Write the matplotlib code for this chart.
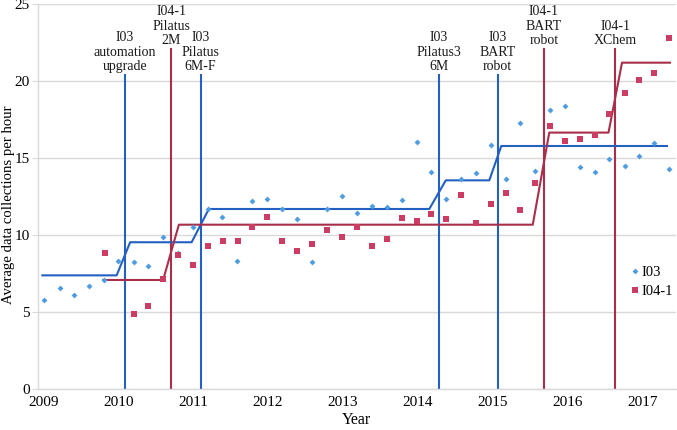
import matplotlib
matplotlib.use("Agg")
import matplotlib.pyplot as plt

plt.rcParams['font.family'] = ['Liberation Serif', 'DejaVu Serif']

# I03 data (run-averaged data collections per hour)
i03_years = [2009.01, 2009.22, 2009.41, 2009.61, 2009.81, 2010.00, 2010.21, 2010.40, 2010.60, 2010.80,
             2011.00, 2011.20, 2011.39, 2011.59, 2011.79, 2011.99, 2012.19, 2012.39, 2012.59, 2012.79,
             2012.99, 2013.18, 2013.38, 2013.58, 2013.78, 2013.98, 2014.17, 2014.37, 2014.57, 2014.77,
             2014.97, 2015.17, 2015.36, 2015.56, 2015.76, 2015.96, 2016.16, 2016.36, 2016.55, 2016.76,
             2016.95, 2017.15, 2017.35]
i03_values = [5.76, 6.58, 6.12, 6.67, 7.08, 8.33, 8.25, 8.01, 9.87, 8.81,
              10.54, 11.70, 11.15, 8.33, 12.21, 12.34, 11.71, 11.06, 8.23, 11.69,
              12.55, 11.45, 11.86, 11.84, 12.29, 16.02, 14.11, 12.32, 13.64, 14.05,
              15.84, 13.62, 17.27, 14.18, 18.12, 18.40, 14.40, 14.07, 14.95, 14.48,
              15.13, 15.99, 14.26]

# I04-1 data
i04_years = [2009.82, 2010.21, 2010.40, 2010.60, 2010.80, 2011.00, 2011.20, 2011.40, 2011.60, 2011.79,
             2011.99, 2012.19, 2012.39, 2012.59, 2012.78, 2012.99, 2013.18, 2013.38, 2013.58, 2013.78,
             2013.98, 2014.17, 2014.37, 2014.57, 2014.77, 2014.97, 2015.17, 2015.36, 2015.56, 2015.76,
             2015.96, 2016.16, 2016.36, 2016.55, 2016.76, 2016.95, 2017.15, 2017.35]
i04_values = [8.83, 4.87, 5.37, 7.12, 8.68, 8.07, 9.31, 9.63, 9.63, 10.52,
              11.15, 9.59, 8.94, 9.39, 10.35, 9.89, 10.52, 9.29, 9.74, 11.10,
              10.93, 11.34, 11.04, 12.62, 10.78, 12.01, 12.71, 11.60, 13.40, 17.08,
              16.10, 16.26, 16.47, 17.86, 19.22, 20.05, 20.54, 22.79]

# Step trend lines (period averages)
i03_step_x = [2008.99, 2009.98, 2010.16, 2010.98, 2011.21, 2014.15, 2014.37, 2014.95, 2015.11, 2017.32]
i03_step_y = [7.38, 7.38, 9.53, 9.53, 11.69, 11.69, 13.55, 13.55, 15.78, 15.78]
i04_step_x = [2009.80, 2010.60, 2010.81, 2015.53, 2015.75, 2016.54, 2016.72, 2017.36]
i04_step_y = [7.08, 7.08, 10.67, 10.67, 16.65, 16.65, 21.19, 21.19]

# Events
event_years = [2010.09, 2010.71, 2011.10, 2014.28, 2015.06, 2015.68, 2016.63]
event_beamline = ['I03', 'I04-1', 'I03', 'I03', 'I03', 'I04-1', 'I04-1']
event_labels = ['I03\nautomation\nupgrade', 'I04-1\nPilatus\n2M', 'I03\nPilatus\n6M-F',
                'I03\nPilatus3\n6M', 'I03\nBART\nrobot', 'I04-1\nBART\nrobot', 'I04-1\nXChem']
event_tops = {'I03': 20.4, 'I04-1': 22.1}

year_ticks = [2009, 2010, 2011, 2012, 2013, 2014, 2015, 2016, 2017]
value_ticks = [0, 5, 10, 15, 20, 25]

pt_blue = '#4f9de0'
pt_red = '#cc3c63'
ln_blue = '#2460c0'
ln_red = '#a82e4a'
grid_c = '#d9d9d9'

fig = plt.figure(figsize=(6.77, 4.30), dpi=100)
ax = fig.add_axes([0.0561, 0.0953, 0.9424, 0.8954])

ax.set_xlim(2008.931, 2017.44)
ax.set_ylim(0, 25)

ax.yaxis.grid(True, color=grid_c, linewidth=1.0)
ax.set_axisbelow(True)

for yr, bl, lab in zip(event_years, event_beamline, event_labels):
    c = ln_blue if bl == 'I03' else ln_red
    top = event_tops[bl]
    ax.plot([yr, yr], [0, top], color=c, linewidth=1.5, zorder=2)
    ax.text(yr, top + 0.12, lab, ha='center', va='bottom', fontsize=10,
            linespacing=1.13, color='#1a1a1a')

ax.plot(i03_step_x, i03_step_y, color=ln_blue, linewidth=1.5, zorder=3)
ax.plot(i04_step_x, i04_step_y, color=ln_red, linewidth=1.5, zorder=3)

ax.plot(i03_years, i03_values, linestyle='none', marker='D', markersize=3,
        color=pt_blue, markeredgewidth=0, label='I03', zorder=4)
ax.plot(i04_years, i04_values, linestyle='none', marker='s', markersize=4.2,
        color=pt_red, markeredgewidth=0, label='I04-1', zorder=4)

ax.set_xticks(year_ticks)
ax.set_xticklabels([str(y) for y in year_ticks])
ax.set_yticks(value_ticks)
ax.tick_params(axis='x', length=0, labelsize=11, pad=5)
ax.tick_params(axis='y', length=4, color=grid_c, labelsize=11, pad=2)

for s in ['top', 'right']:
    ax.spines[s].set_visible(False)
for s in ['left', 'bottom']:
    ax.spines[s].set_color(grid_c)
    ax.spines[s].set_linewidth(1.0)

ax.set_xlabel('Year', fontsize=11.5, labelpad=2)
ax.set_ylabel('Average data collections per hour', fontsize=10.6)
ax.yaxis.set_label_coords(-0.036, 0.478)

ax.legend(loc='center left', bbox_to_anchor=(0.931, 0.278), frameon=False,
          fontsize=10.5, handlelength=0.4, handletextpad=0.25, labelspacing=0.45,
          borderpad=0, borderaxespad=0)

fig.savefig('out.png', dpi=100)
